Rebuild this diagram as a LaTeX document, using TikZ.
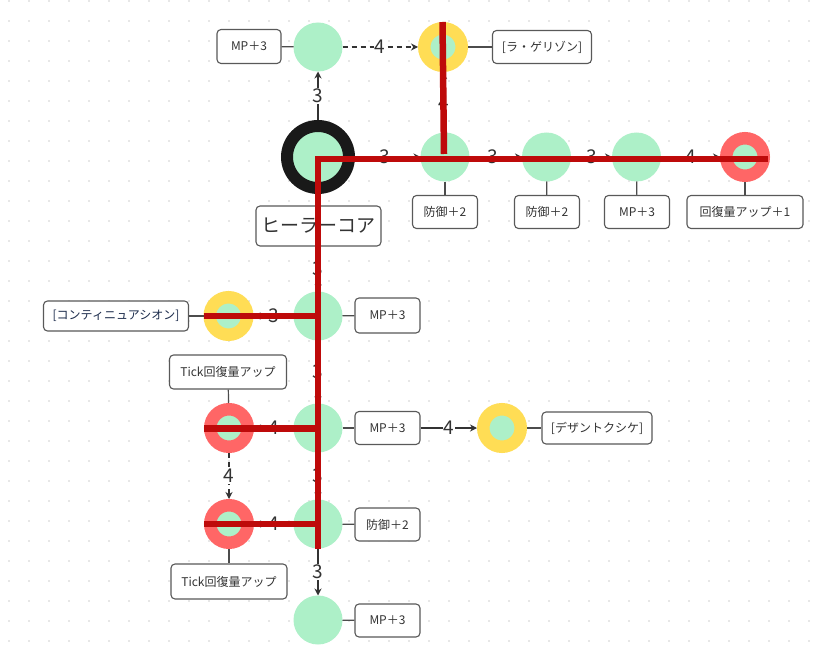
\documentclass[tikz,border=0pt]{standalone}
\usepackage{fontspec}
\setmainfont{Noto Sans CJK JP}
\usetikzlibrary{arrows.meta}
\definecolor{mint}{HTML}{ADF0C8}
\definecolor{gold}{HTML}{FFDD55}
\definecolor{coral}{HTML}{FF6666}
\definecolor{route}{HTML}{BE0A0A}
\definecolor{ink}{HTML}{333333}
\definecolor{navy}{HTML}{1B2B4B}
\definecolor{dotc}{HTML}{9A9A9A}
\begin{document}
\begin{tikzpicture}[x=1pt,y=-1pt,
  spot/.style={circle, fill=mint, minimum size=49pt, inner sep=0pt, outer sep=0pt},
  ringy/.style={circle, fill=mint, draw=gold, line width=12.5pt, minimum size=37.5pt, inner sep=0pt},
  ringr/.style={circle, fill=mint, draw=coral, line width=12.5pt, minimum size=37.5pt, inner sep=0pt},
  corenode/.style={circle, fill=mint, draw=black!90, line width=12pt, minimum size=62pt, inner sep=0pt},
  tag/.style={draw=black!65, fill=white, rounded corners=4pt, line width=1.1pt, font=\fontsize{12}{14}\selectfont, text=ink, inner sep=0pt, minimum height=34pt},
  link/.style={draw=black!70, line width=1.2pt},
  edge/.style={draw=ink, line width=1.3pt, -{Stealth[length=7pt,width=7pt]}},
  elabel/.style={fill=white, inner sep=1pt, font=\fontsize{19}{19}\selectfont, text=ink},
  redpath/.style={draw=route, line width=6.5pt}
]
\useasboundingbox (0,0) rectangle (822,658);
\fill[white] (0,0) rectangle (822,658);
\foreach \i in {0,...,40} {
  \foreach \j in {0,...,32} {
    \fill[dotc] ({9+20*\i},{1+20*\j}) circle (0.65pt);
  }
}

% nodes
\node[spot] (topc) at (318,47) {};
\node[tag, minimum width=64pt] (topbox) at (249,46.5) {MP＋3};
\node[ringy] (ylw1) at (443,47) {};
\node[tag, minimum width=99pt, minimum height=33pt] (lgbox) at (542,47) {[ラ・ゲリゾン]};

\node[corenode] (core) at (318,157) {};
\node[tag, minimum width=125pt, minimum height=40pt, font=\fontsize{19}{21}\selectfont] (corebox) at (318.5,226) {ヒーラーコア};

\node[spot] (r1) at (445,157) {};
\node[spot] (r2) at (546.5,157) {};
\node[spot] (r3) at (636.5,157) {};
\node[ringr] (redR) at (745,157) {};
\node[tag, minimum width=65pt, minimum height=33pt] (b1) at (445,212) {防御＋2};
\node[tag, minimum width=65pt, minimum height=33pt] (b2) at (547,212) {防御＋2};
\node[tag, minimum width=65pt, minimum height=33pt] (b3) at (637,212) {MP＋3};
\node[tag, minimum width=116pt, minimum height=33pt] (b4) at (745,212) {回復量アップ＋1};

\node[spot] (c1) at (318,316) {};
\node[tag, minimum width=65pt, minimum height=35pt] (mpbox1) at (387.5,315.5) {MP＋3};
\node[ringy] (yc) at (228.5,316) {};
\node[tag, minimum width=145pt, minimum height=30pt, text=navy] (contbox) at (116,316) {[コンティニュアシオン]};
\node[tag, minimum width=117pt] (tick1) at (228,372) {Tick回復量アップ};

\node[spot] (c3) at (318,428) {};
\node[tag, minimum width=65pt, minimum height=33pt] (mpbox3) at (387.5,428) {MP＋3};
\node[ringr] (rc3) at (229,428) {};
\node[ringy] (ylw3) at (502,428) {};
\node[tag, minimum width=110pt, minimum height=32pt] (dzbox) at (597,428) {[デザントクシケ]};

\node[spot] (c4) at (318,524) {};
\node[tag, minimum width=65pt, minimum height=33pt] (defbox4) at (387.5,524.5) {防御＋2};
\node[ringr] (rc4) at (229,524) {};
\node[tag, minimum width=116pt, minimum height=35pt] (tick2) at (229,581.5) {Tick回復量アップ};

\node[spot] (c5) at (318,620) {};
\node[tag, minimum width=65pt, minimum height=33pt] (mpbox5) at (387.5,620.5) {MP＋3};

% plain connectors
\draw[link] (topbox) -- (topc);
\draw[link] (ylw1) -- (lgbox);
\draw[link] (core) -- (corebox);
\draw[link] (r1) -- (b1);
\draw[link] (r2) -- (b2);
\draw[link] (r3) -- (b3);
\draw[link] (redR) -- (b4);
\draw[link] (contbox) -- (yc);
\draw[link] (c1) -- (mpbox1);
\draw[link] (tick1) -- (rc3);
\draw[link] (c3) -- (mpbox3);
\draw[link] (ylw3) -- (dzbox);
\draw[link] (c4) -- (defbox4);
\draw[link] (rc4) -- (tick2);
\draw[link] (c5) -- (mpbox5);

% labelled edges
\draw[edge] (core) -- node[elabel]{3} (topc);
\draw[edge, dash pattern=on 5pt off 4pt] (topc) -- node[elabel]{4} (ylw1);
\draw[edge] (core) -- node[elabel, pos=0.45]{3} (r1);
\draw[edge] (r1) -- node[elabel, pos=0.45]{3} (r2);
\draw[edge] (r2) -- node[elabel]{3} (r3);
\draw[edge] (r3) -- node[elabel]{4} (redR);
\draw[edge] (r1) -- node[elabel]{4} (ylw1);
\draw[edge] (corebox) -- node[elabel]{3} (c1);
\draw[edge] (c1) -- node[elabel]{3} (c3);
\draw[edge] (c3) -- node[elabel]{3} (c4);
\draw[edge] (c4) -- node[elabel]{3} (c5);
\draw[edge] (c1) -- node[elabel]{3} (yc);
\draw[edge] (c3) -- node[elabel]{4} (rc3);
\draw[edge] (c4) -- node[elabel]{4} (rc4);
\draw[edge, dash pattern=on 5pt off 4pt] (rc3) -- node[elabel]{4} (rc4);
\draw[edge] (mpbox3) -- node[elabel]{4} (ylw3);

% highlighted route
\draw[redpath, line join=miter] (768,159) -- (318,159) -- (318,549);
\draw[redpath] (442.5,22) -- (444,154);
\draw[redpath] (318,316) -- (204,316);
\draw[redpath] (318,428.5) -- (204,428.5);
\draw[redpath] (318,524) -- (204,524);
\end{tikzpicture}
\end{document}
